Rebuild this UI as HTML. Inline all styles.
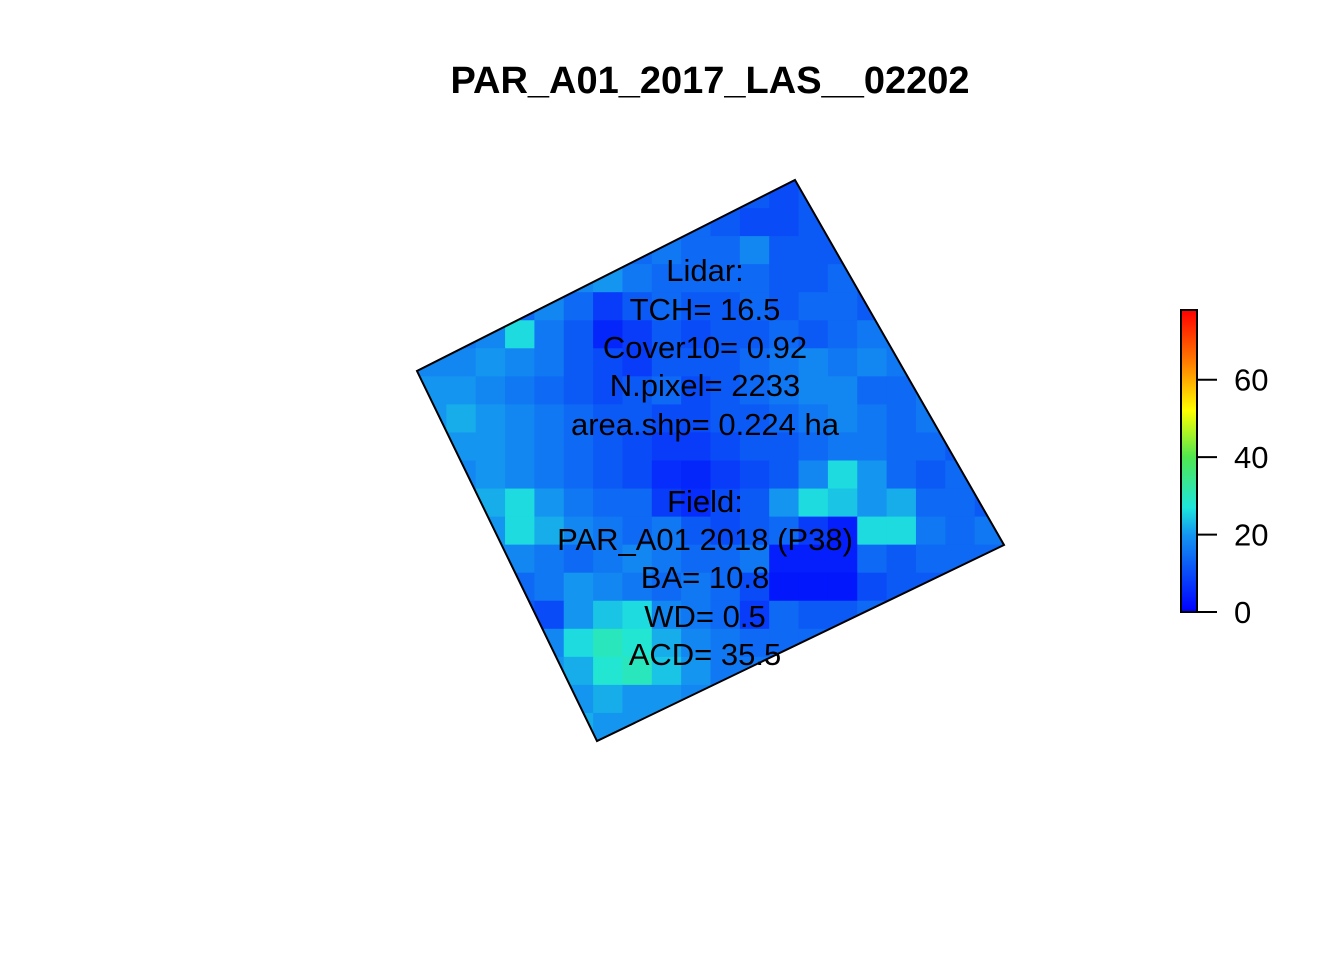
<!DOCTYPE html>
<html><head><meta charset="utf-8"><style>
body{margin:0;background:#fff;}
svg{display:block;font-family:"Liberation Sans",sans-serif;}
</style></head><body>
<svg id="chart" width="1344" height="960" viewBox="0 0 1344 960">
<defs>
<clipPath id="plotclip"><polygon points="795,180 1004,545 597,741 417,371"/></clipPath>
<linearGradient id="cbgrad" x1="0" y1="1" x2="0" y2="0">
<stop offset="0" stop-color="rgb(0,0,255)"/>
<stop offset="0.256" stop-color="rgb(20,150,240)"/>
<stop offset="0.346" stop-color="rgb(30,230,220)"/>
<stop offset="0.513" stop-color="rgb(80,230,80)"/>
<stop offset="0.667" stop-color="rgb(255,255,0)"/>
<stop offset="0.833" stop-color="rgb(255,120,0)"/>
<stop offset="1" stop-color="rgb(255,0,0)"/>
</linearGradient>
</defs>
<text x="710" y="93" text-anchor="middle" font-size="38" font-weight="bold">PAR_A01_2017_LAS__02202</text>
<g id="cells" clip-path="url(#plotclip)"></g>
<polygon points="795,180 1004,545 597,741 417,371" fill="none" stroke="#000" stroke-width="2"/>
<g font-size="31" text-anchor="middle">
<text x="705" y="281">Lidar:</text>
<text x="705" y="320">TCH= 16.5</text>
<text x="705" y="358">Cover10= 0.92</text>
<text x="705" y="396">N.pixel= 2233</text>
<text x="705" y="435">area.shp= 0.224 ha</text>
<text x="705" y="512">Field:</text>
<text x="705" y="550">PAR_A01 2018 (P38)</text>
<text x="705" y="588">BA= 10.8</text>
<text x="705" y="627">WD= 0.5</text>
<text x="705" y="665">ACD= 35.5</text>
</g>
<rect x="1181" y="310" width="16" height="302" fill="url(#cbgrad)" stroke="#000" stroke-width="2"/>
<g id="cbticks" font-size="31"></g>
</svg>
<script>
const gridRows = [
"12 12 12 12 12 12 12 12 12 12 12 12 10 12 12 12 12 12 12 12",
"12 12 12 12 12 12 12 12 12 14 12 10 10 12 12 12 12 12 12 12",
"12 12 12 12 12 12 12 14 16 14 14 18 12 12 12 12 12 12 12 12",
"12 12 12 12 12 18 20 16 14 14 14 14 12 12 14 12 12 12 12 12",
"12 12 14 14 18 14 8 12 14 12 12 14 12 14 14 12 12 12 12 12",
"16 16 18 26 16 12 5 8 12 10 12 12 14 12 14 16 16 12 12 12",
"18 18 20 18 16 12 10 8 12 12 12 14 16 18 16 18 16 14 12 12",
"20 20 18 16 14 12 10 12 14 10 12 14 16 18 18 14 14 16 14 12",
"20 22 20 18 16 14 12 12 10 10 12 12 14 16 18 16 14 16 14 12",
"22 20 20 18 16 14 12 10 8 8 10 12 12 14 16 16 14 14 12 12",
"18 18 20 18 16 14 12 10 6 5 8 10 12 18 26 20 14 12 14 12",
"18 18 22 26 20 16 14 14 8 6 10 12 20 26 24 20 22 14 14 12",
"18 18 20 26 22 18 16 14 16 12 10 12 14 8 4 26 26 16 14 16",
"18 18 18 18 16 14 16 18 16 14 14 16 4 4 4 14 12 14 14 14",
"16 16 16 14 16 20 18 16 14 16 14 10 3 3 3 10 12 12 14 14",
"14 14 14 12 10 20 24 26 18 16 14 8 14 12 12 14 14 14 14 14",
"14 14 14 6 18 26 30 28 22 18 16 14 14 14 14 14 14 14 14 14",
"18 18 18 18 20 22 28 30 24 20 16 16 16 16 16 16 16 16 16 16",
"20 20 20 20 20 20 22 20 20 18 18 18 18 18 18 18 18 18 18 18",
"20 20 20 20 20 22 20 20 20 20 20 20 20 20 20 20 20 20 20 20"
];
const tickValues = [0, 20, 40, 60];
const tickLabels = ["0", "20", "40", "60"];
const zMax = 78;

const NS = "http://www.w3.org/2000/svg";
const x0 = 417, x1 = 1004, y0 = 180, y1 = 741;
const stops = [[0,[0,0,255]],[20,[20,150,240]],[27,[30,230,220]],[40,[80,230,80]],[52,[255,255,0]],[65,[255,120,0]],[78,[255,0,0]]];
function colorOf(v){
  for(let i=1;i<stops.length;i++){
    if(v<=stops[i][0]){
      const a=stops[i-1],b=stops[i],t=(v-a[0])/(b[0]-a[0]);
      return "rgb("+a[1].map((c,k)=>Math.round(c+(b[1][k]-c)*t)).join(",")+")";
    }
  }
  return "rgb(255,0,0)";
}
const cellsG = document.getElementById("cells");
const nr = gridRows.length;
gridRows.forEach((row, r) => {
  const vals = row.trim().split(/\s+/).map(Number);
  const nc = vals.length;
  const cw = (x1-x0)/nc, ch = (y1-y0)/nr;
  vals.forEach((v, c) => {
    const el = document.createElementNS(NS, "rect");
    el.setAttribute("x", x0 + c*cw);
    el.setAttribute("y", y0 + r*ch);
    el.setAttribute("width", cw + 0.6);
    el.setAttribute("height", ch + 0.6);
    el.setAttribute("fill", colorOf(v));
    
    
    cellsG.appendChild(el);
  });
});
const cbTop = 310, cbBot = 612;
function cbY(v){ return cbBot - (v/zMax)*(cbBot-cbTop); }
const tg = document.getElementById("cbticks");
tickValues.forEach((v, i) => {
  const y = cbY(v);
  const ln = document.createElementNS(NS, "line");
  ln.setAttribute("x1", 1197); ln.setAttribute("x2", 1217);
  ln.setAttribute("y1", y); ln.setAttribute("y2", y);
  ln.setAttribute("stroke", "#000"); ln.setAttribute("stroke-width", "2");
  
  
  tg.appendChild(ln);
  const t = document.createElementNS(NS, "text");
  t.setAttribute("x", 1234); t.setAttribute("y", y + 11);
  t.textContent = tickLabels[i];
  
  
  tg.appendChild(t);
});
</script>
</body></html>
